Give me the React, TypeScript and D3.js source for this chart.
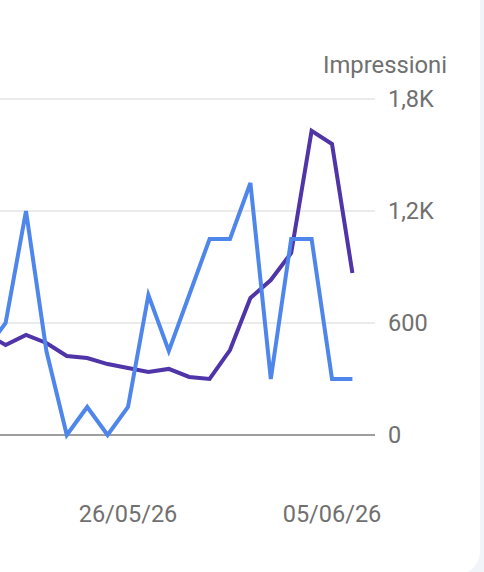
import * as d3 from 'd3'

// Daily search performance, 19/05/26 – 06/06/26
const days = [
  '2026-05-19', '2026-05-20', '2026-05-21', '2026-05-22', '2026-05-23',
  '2026-05-24', '2026-05-25', '2026-05-26', '2026-05-27', '2026-05-28',
  '2026-05-29', '2026-05-30', '2026-05-31', '2026-06-01', '2026-06-02',
  '2026-06-03', '2026-06-04', '2026-06-05', '2026-06-06',
]
const clicks = [3, 4, 8, 3, 0, 1, 0, 1, 5, 3, 5, 7, 7, 9, 2, 7, 7, 2, 2]
const impressions = [545, 482, 536, 493, 423, 412, 380, 359, 338, 354, 311, 300, 455, 734, 830, 975, 1629, 1559, 868]

const impressionTicks = [0, 600, 1200, 1800]
const dateTicks = ['2026-05-26', '2026-06-05']

const W = 484
const H = 572
const FONT = 'Roboto, "Noto Sans", sans-serif'
const TEXT = '#707070'

const parse = d3.utcParse('%Y-%m-%d')

export default function App() {
  const dates = days.map((d) => parse(d)!)

  const x = d3
    .scaleUtc()
    .domain([parse('2026-05-26')!, parse('2026-06-05')!])
    .range([128, 332])
  const yImp = d3.scaleLinear().domain([0, 1800]).range([435, 99])
  // clicks share the plot height, their own axis sits off to the left
  const yClicks = d3.scaleLinear().domain([0, 12]).range([435, 99])

  const plotLeft = -40
  const plotRight = 375

  const impLine = d3
    .line<number>()
    .x((_, i) => x(dates[i]))
    .y((v) => yImp(v))
  const clickLine = d3
    .line<number>()
    .x((_, i) => x(dates[i]))
    .y((v) => yClicks(v))

  const fmtTick = (v: number) =>
    v >= 1000 ? `${(v / 1000).toFixed(1).replace('.', ',')}K` : String(v)
  const fmtDate = d3.utcFormat('%d/%m/%y')

  return (
    <svg
      width={W}
      height={H}
      style={{ position: 'absolute', left: 0, top: 0, display: 'block' }}
    >
      <rect x={0} y={0} width={W} height={H} fill="#f1f4f9" />
      <rect x={-40} y={-40} width={520} height={615} rx={24} fill="#ffffff" />

      {/* grid */}
      {impressionTicks.map((t) => (
        <line
          key={t}
          x1={plotLeft}
          x2={plotRight}
          y1={yImp(t)}
          y2={yImp(t)}
          stroke={t === 0 ? '#9e9e9e' : '#ebebeb'}
          strokeWidth={2}
        />
      ))}

      {/* series */}
      <path
        d={impLine(impressions) ?? ''}
        fill="none"
        stroke="#5035a9"
        strokeWidth={4}
      />
      <path
        d={clickLine(clicks) ?? ''}
        fill="none"
        stroke="#4f86ec"
        strokeWidth={4}
      />

      {/* right axis */}
      <text
        x={447}
        y={73}
        textAnchor="end"
        fill={TEXT}
        fontFamily={FONT}
        fontSize={23.8}
      >
        Impressioni
      </text>
      {impressionTicks.map((t) => (
        <text
          key={t}
          x={388}
          y={yImp(t) + 8}
          fill={TEXT}
          fontFamily={FONT}
          fontSize={23.5}
        >
          {fmtTick(t)}
        </text>
      ))}

      {/* date axis */}
      {dateTicks.map((d) => (
        <text
          key={d}
          x={x(parse(d)!)}
          y={522}
          textAnchor="middle"
          fill={TEXT}
          fontFamily={FONT}
          fontSize={23.5}
        >
          {fmtDate(parse(d)!)}
        </text>
      ))}
    </svg>
  )
}
